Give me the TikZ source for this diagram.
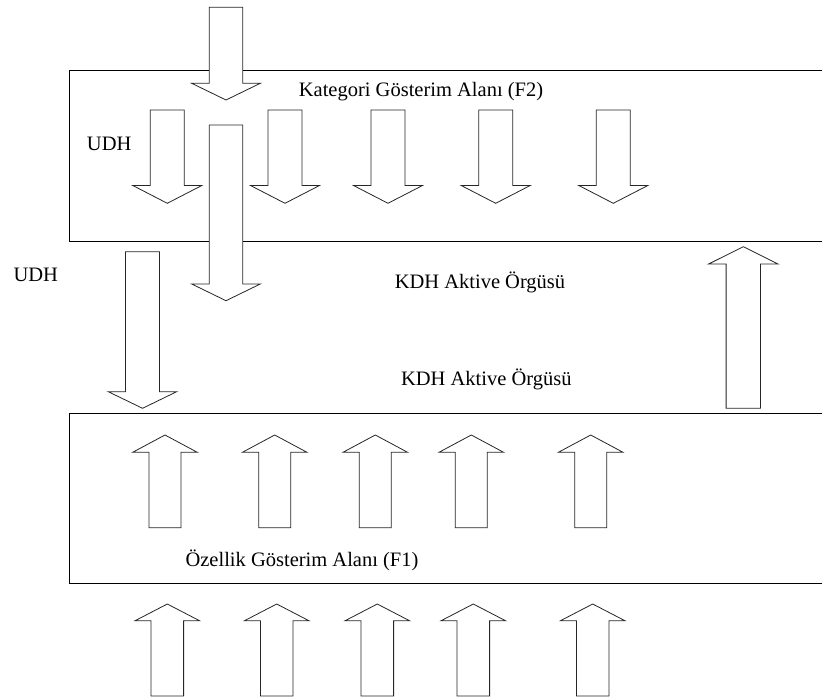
\documentclass[tikz,border=0pt]{standalone}
\usepackage{fontspec}
\setmainfont{Liberation Serif}
\newfontfamily\labelfont{Liberation Serif}
% block arrow: #1 centre x, #2 shaft end y, #3 head base y, #4 tip y,
% #5 half shaft width, #6 half head width
\newcommand\blockarrow[6]{%
  \draw[blockarr] ({#1-#5},#2) -- ({#1+#5},#2) -- ({#1+#5},#3) -- ({#1+#6},#3)
    -- (#1,#4) -- ({#1-#6},#3) -- ({#1-#5},#3) -- cycle;}
\begin{document}
\begin{tikzpicture}[x=1pt,y=-1pt,
  frame/.style={line width=1pt,black},
  blockarr/.style={line width=0.8pt,draw=black!85,fill=white,line join=miter},
  lbl/.style={inner sep=0pt,anchor=base,font=\labelfont\fontsize{20.5}{24}\selectfont}]
\useasboundingbox (0,0) rectangle (822,698);

% the two layers, open towards the right
\draw[frame] (822,71) -- (69,71) -- (69,241.7) -- (822,241.7);
\draw[frame] (822,413.3) -- (69,413.3) -- (69,583.3) -- (822,583.3);

% inputs into F2 and the long arrow through it
\blockarrow{226}{7.3}{83.3}{100}{16.8}{34.3}
\blockarrow{226}{125}{284}{300.7}{16.8}{34.3}

% arrows inside F2
\foreach \cx in {167.3,285,388,495.7,613.3}{
  \blockarrow{\cx}{110}{185.5}{203.3}{17}{34.5}
}

% top-down arrow into F1 and bottom-up arrow into F2
\blockarrow{142.5}{251.7}{391.7}{408.3}{17}{34.2}
\blockarrow{743.3}{408.3}{264}{246.7}{17.2}{34.7}

% arrows inside F1
\foreach \cx in {165,274.7,375.3,471.3,590.7}{
  \blockarrow{\cx}{527.7}{452.3}{435}{16}{32.3}
}

% inputs into F1
\foreach \cx in {167.3,276.7,377.3,473.3,592.7}{
  \blockarrow{\cx}{696}{620.7}{604}{16.3}{32.2}
}

% labels
\node[lbl] (f2) at (421,96.7) {Kategori Gösterim Alanı (F2)};
\node[lbl] (udhin) at (109.2,150.7) {UDH};
\node[lbl] (udhout) at (35.8,281.7) {UDH};
\node[lbl] (kdha) at (480,288.3) {KDH Aktive Örgüsü};
\node[lbl] (kdhb) at (486.3,385) {KDH Aktive Örgüsü};
\node[lbl] (f1) at (302,566.7) {Özellik Gösterim Alanı (F1)};
\end{tikzpicture}
\end{document}
